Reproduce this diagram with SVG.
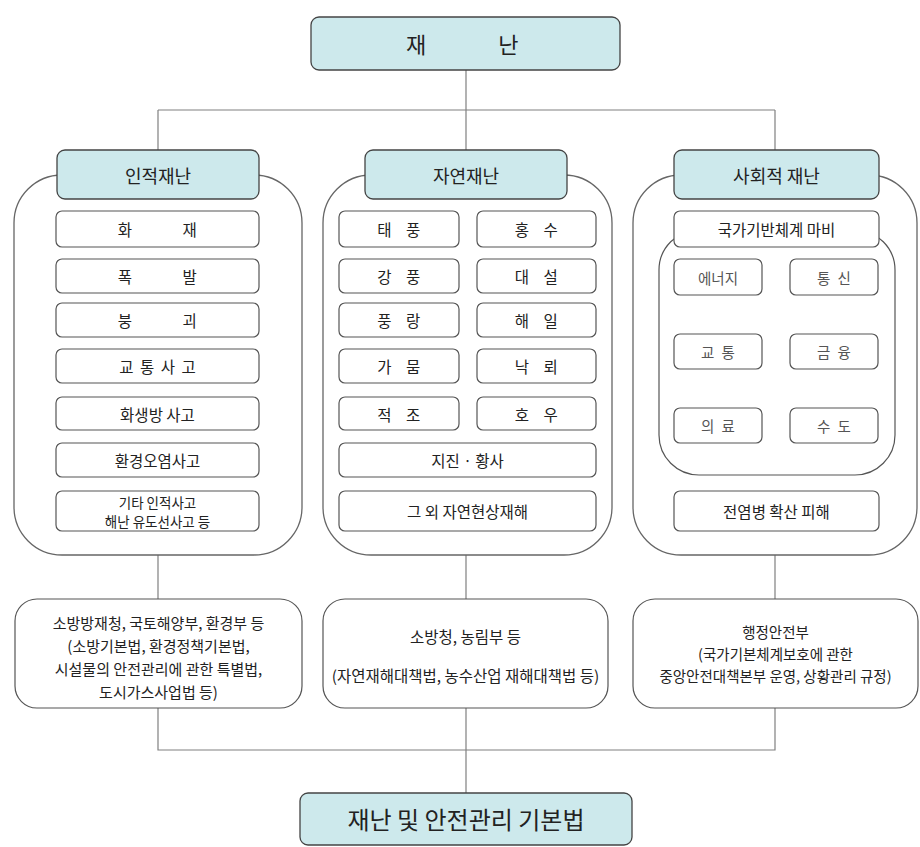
<svg xmlns="http://www.w3.org/2000/svg" width="920" height="847" viewBox="0 0 920 847">
<style>
.hdr{fill:#cde9ec;stroke:#444;stroke-width:1.3}
.box{fill:#fff;stroke:#555;stroke-width:1.2}
.outer{fill:#fff;stroke:#666;stroke-width:1.3}
.ln{stroke:#808080;stroke-width:1.2;fill:none}
text{font-family:"Noto Sans CJK KR","Noto Sans",sans-serif;fill:#222;text-anchor:middle;dominant-baseline:central}
.t17{font-size:18px}
.t14{font-size:15.5px}
.t2l{font-size:13.5px}
.t13{font-size:14.5px;fill:#555}
.tb{font-size:15px}
.tm{font-size:15.5px}
.tr{font-size:14.5px}
</style>
<rect x="0" y="0" width="920" height="847" fill="#fff"/>
<g id="connectors">
<path class="ln" d="M466,70V110M158,110H775M158,110V150M466,110V150M775,110V150"/>
<path class="ln" d="M158,555V599M466,555V599M775,555V599"/>
<path class="ln" d="M158,708V750H775V708M466,708V793"/>
</g>
<g id="top">
<rect class="hdr" x="311" y="17" width="309" height="53" rx="8"/>
<text x="479" y="43" style="font-size:22px;letter-spacing:33.5px">재 난</text>
</g>
<g id="col-human">
<rect class="outer" x="14" y="175" width="288" height="380" rx="48"/>
<rect class="hdr" x="57" y="150" width="202" height="49" rx="8"/>
<text class="t17" x="158" y="175">인적재난</text>
<g id="h1"><rect class="box" x="56" y="211" width="203" height="36" rx="6"/><text class="t14" x="169" y="229" style="letter-spacing:23.5px">화 재</text></g>
<g id="h2"><rect class="box" x="56" y="259" width="203" height="34" rx="6"/><text class="t14" x="169" y="276" style="letter-spacing:23.5px">폭 발</text></g>
<g id="h3"><rect class="box" x="56" y="303" width="203" height="34" rx="6"/><text class="t14" x="169" y="320" style="letter-spacing:23.5px">붕 괴</text></g>
<g id="h4"><rect class="box" x="56" y="349" width="203" height="34" rx="6"/><text class="t14" x="158.3" y="366" style="letter-spacing:1.5px">교 통 사 고</text></g>
<g id="h5"><rect class="box" x="56" y="397" width="203" height="33" rx="6"/><text class="t14" x="157.5" y="413.5">화생방 사고</text></g>
<g id="h6"><rect class="box" x="56" y="443" width="203" height="34" rx="6"/><text class="t14" x="157.5" y="460">환경오염사고</text></g>
<g id="h7"><rect class="box" x="56" y="491" width="203" height="40" rx="6"/><text class="t2l" x="157.5" y="501.5">기타 인적사고</text><text class="t2l" x="157.5" y="521">해난 유도선사고 등</text></g>
</g>
<g id="col-natural">
<rect class="outer" x="323" y="175" width="289" height="380" rx="48"/>
<rect class="hdr" x="365" y="150" width="202" height="49" rx="8"/>
<text class="t17" x="466" y="175">자연재난</text>
<g id="n1"><rect class="box" x="339" y="211" width="120" height="36" rx="6"/><text class="t14" x="401.5" y="229" style="letter-spacing:5.5px">태 풍</text></g>
<g id="n2"><rect class="box" x="477" y="211" width="119" height="36" rx="6"/><text class="t14" x="539" y="229" style="letter-spacing:5.5px">홍 수</text></g>
<g id="n3"><rect class="box" x="339" y="259" width="120" height="34" rx="6"/><text class="t14" x="401.5" y="276" style="letter-spacing:5.5px">강 풍</text></g>
<g id="n4"><rect class="box" x="477" y="259" width="119" height="34" rx="6"/><text class="t14" x="539" y="276" style="letter-spacing:5.5px">대 설</text></g>
<g id="n5"><rect class="box" x="339" y="303" width="120" height="34" rx="6"/><text class="t14" x="401.5" y="320" style="letter-spacing:5.5px">풍 랑</text></g>
<g id="n6"><rect class="box" x="477" y="303" width="119" height="34" rx="6"/><text class="t14" x="539" y="320" style="letter-spacing:5.5px">해 일</text></g>
<g id="n7"><rect class="box" x="339" y="349" width="120" height="34" rx="6"/><text class="t14" x="401.5" y="366" style="letter-spacing:5.5px">가 뭄</text></g>
<g id="n8"><rect class="box" x="477" y="349" width="119" height="34" rx="6"/><text class="t14" x="539" y="366" style="letter-spacing:5.5px">낙 뢰</text></g>
<g id="n9"><rect class="box" x="339" y="397" width="120" height="33" rx="6"/><text class="t14" x="401.5" y="413.5" style="letter-spacing:5.5px">적 조</text></g>
<g id="n10"><rect class="box" x="477" y="397" width="119" height="33" rx="6"/><text class="t14" x="539" y="413.5" style="letter-spacing:5.5px">호 우</text></g>
<g id="n11"><rect class="box" x="339" y="443" width="257" height="34" rx="6"/><text class="t14" x="467.5" y="460">지진 · 황사</text></g>
<g id="n12"><rect class="box" x="339" y="491" width="257" height="40" rx="6"/><text class="t14" x="467.5" y="511">그 외 자연현상재해</text></g>
</g>
<g id="col-social">
<rect class="outer" x="633" y="175" width="284" height="380" rx="48"/>
<rect class="box" x="659" y="230" width="236" height="245" rx="40"/>
<rect class="hdr" x="674" y="150" width="205" height="49" rx="8"/>
<text class="t17" x="776.5" y="175">사회적 재난</text>
<g id="s0"><rect class="box" x="674" y="211" width="205" height="36" rx="6"/><text class="t14" x="776.5" y="229">국가기반체계 마비</text></g>
<g id="s1"><rect class="box" x="674" y="259" width="88" height="36" rx="6"/><text class="t13" x="718" y="277">에너지</text></g>
<g id="s2"><rect class="box" x="790" y="259" width="88" height="36" rx="6"/><text class="t13" x="835" y="277" style="letter-spacing:2px">통 신</text></g>
<g id="s3"><rect class="box" x="674" y="334" width="88" height="35" rx="6"/><text class="t13" x="719" y="351.5" style="letter-spacing:2px">교 통</text></g>
<g id="s4"><rect class="box" x="790" y="334" width="88" height="35" rx="6"/><text class="t13" x="835" y="351.5" style="letter-spacing:2px">금 융</text></g>
<g id="s5"><rect class="box" x="674" y="408" width="88" height="35" rx="6"/><text class="t13" x="719" y="425.5" style="letter-spacing:2px">의 료</text></g>
<g id="s6"><rect class="box" x="790" y="408" width="88" height="35" rx="6"/><text class="t13" x="835" y="425.5" style="letter-spacing:2px">수 도</text></g>
<g id="s7"><rect class="box" x="674" y="491" width="205" height="40" rx="6"/><text class="t14" x="776.5" y="511">전염병 확산 피해</text></g>
</g>
<g id="law-human">
<rect class="box" x="15" y="599" width="287" height="109" rx="22"/>
<text class="tb" x="158.5" y="622">소방방재청, 국토해양부, 환경부 등</text>
<text class="tb" x="158.5" y="645">(소방기본법, 환경정책기본법,</text>
<text class="tb" x="158.5" y="668">시설물의 안전관리에 관한 특별법,</text>
<text class="tb" x="158.5" y="691">도시가스사업법 등)</text>
</g>
<g id="law-natural">
<rect class="box" x="323" y="599" width="285" height="109" rx="22"/>
<text class="tm" x="465.5" y="636">소방청, 농림부 등</text>
<text class="tm" x="465.5" y="675">(자연재해대책법, 농수산업 재해대책법 등)</text>
</g>
<g id="law-social">
<rect class="box" x="633" y="599" width="285" height="109" rx="22"/>
<text class="tr" x="775.5" y="631">행정안전부</text>
<text class="tr" x="775.5" y="653">(국가기본체계보호에 관한</text>
<text class="tr" x="775.5" y="675">중앙안전대책본부 운영, 상황관리 규정)</text>
</g>
<g id="bottom">
<rect class="hdr" x="300" y="793" width="332" height="52" rx="8"/>
<text x="466" y="818" style="font-size:24px">재난 및 안전관리 기본법</text>
</g>
</svg>
